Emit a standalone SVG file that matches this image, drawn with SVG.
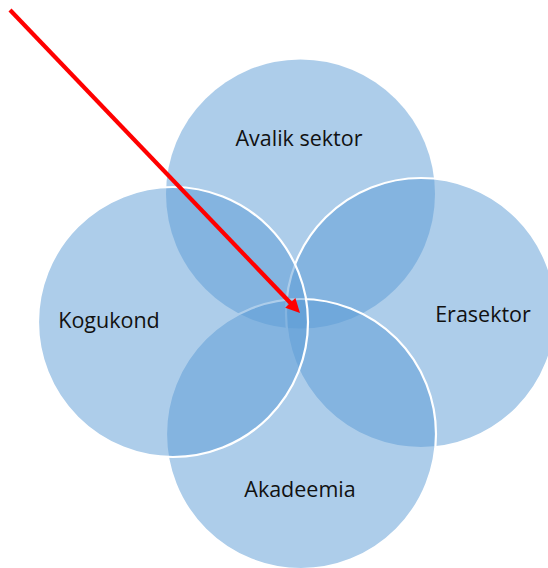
<svg xmlns="http://www.w3.org/2000/svg" width="548" height="568" viewBox="0 0 548 568">
<style>
.c{fill:#5B9BD5;fill-opacity:0.5}
.s{stroke:#FFFFFF;stroke-width:2.2}
.t{font-family:"Open Sans","Liberation Sans",sans-serif;font-size:21.5px;fill:#111111;text-anchor:middle}
</style>
<rect width="548" height="568" fill="#FFFFFF"/>
<g id="avalik-sektor">
<circle class="c" cx="300.5" cy="194" r="134.5"/>
<text class="t" x="299" y="146">Avalik sektor</text>
</g>
<g id="erasektor">
<circle class="c s" cx="421" cy="313" r="135"/>
<text class="t" x="483" y="322">Erasektor</text>
</g>
<g id="akadeemia">
<circle class="c s" cx="301" cy="434" r="135"/>
<text class="t" x="300" y="497">Akadeemia</text>
</g>
<g id="kogukond">
<circle class="c s" cx="173" cy="322" r="135"/>
<text class="t" x="109" y="328">Kogukond</text>
</g>
<g id="connectors">
<line x1="10" y1="10" x2="291" y2="303.5" stroke="#FF0000" stroke-width="4.2"/>
<polygon points="300,313 285.2,307.7 295.4,298.1" fill="#FF0000"/>
</g>
</svg>
